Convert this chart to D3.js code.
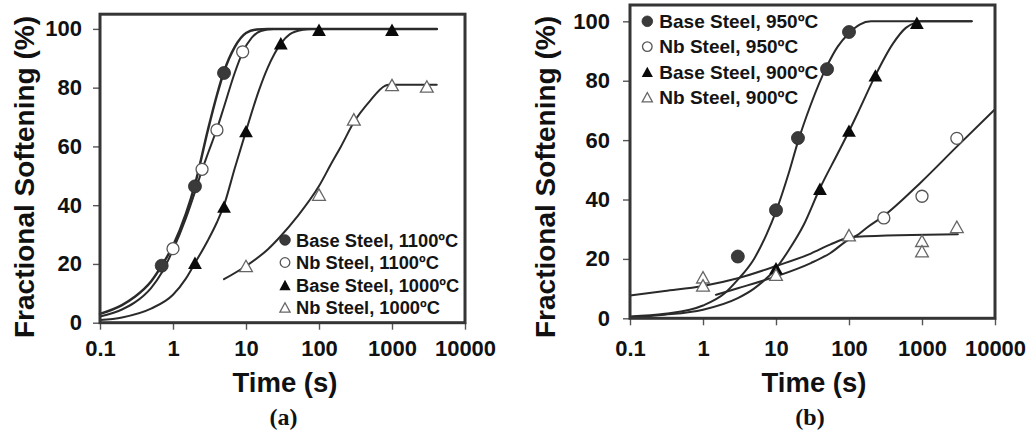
<!DOCTYPE html>
<html><head><meta charset="utf-8">
<script src="https://cdn.jsdelivr.net/npm/d3@7"></script>
<style>body{margin:0;background:#fff;} svg{display:block}</style>
</head><body><svg id="c" width="1032" height="434"></svg>
<script>
// ---------- data ----------
const xTickValues = [0.1, 1, 10, 100, 1000, 10000];
const xTickLabels = ["0.1", "1", "10", "100", "1000", "10000"];
const yTickValues = [0, 20, 40, 60, 80, 100];
const yTickLabels = ["0", "20", "40", "60", "80", "100"];
const panelLabels = ["(a)", "(b)"];
const xTitle = "Time (s)";
const yTitle = "Fractional Softening (%)";
const aLegend = ["Base Steel, 1100ºC", "Nb Steel, 1100ºC", "Base Steel, 1000ºC", "Nb Steel, 1000ºC"];
const bLegend = ["Base Steel, 950ºC", "Nb Steel, 950ºC", "Base Steel, 900ºC", "Nb Steel, 900ºC"];

// panel (a) measured points [time s, softening %]
const aBase1100 = [[0.7, 19.4], [2, 46.4], [5, 85]];
const aNb1100 = [[1, 25.2], [2.5, 52.2], [4, 65.6], [9, 92.2]];
const aBase1000 = [[2, 20.4], [5, 39.5], [10, 65.2], [30, 95.1], [100, 99.7], [1000, 99.7]];
const aNb1000 = [[10, 19.3], [100, 43.6], [300, 69.2], [1000, 80.9], [3000, 80.4]];
// panel (a) fitted curves
const aBase1100Fit = [[0.1, 3.0], [0.2, 6], [0.3, 8.8], [0.5, 14], [0.7, 19.4], [1, 26.2], [1.5, 37], [2, 47], [3, 65.5], [4, 77.5], [5, 85.5], [7, 93.8], [10, 98.6], [14, 99.8], [20, 100], [4100, 100]];
const aNb1100Fit = [[0.1, 2.1], [0.2, 4.5], [0.3, 6.9], [0.5, 11.8], [0.7, 17], [1, 24.8], [1.5, 35.5], [2, 44.5], [2.5, 52], [3, 57.5], [4, 66], [5, 73.5], [7, 85], [9, 92], [12, 97], [16, 99.3], [24, 100], [4100, 100]];
const aBase1000Fit = [[0.1, 0.9], [0.2, 1.8], [0.5, 4.8], [1, 9.5], [1.5, 15], [2, 20.3], [3, 28], [4, 34.2], [5, 40], [7, 52.5], [10, 65.2], [15, 79], [20, 87], [30, 95], [40, 98.2], [60, 99.7], [80, 100], [4100, 100]];
const aNb1000Fit = [[5, 14.8], [10, 19.3], [20, 25], [30, 29.5], [50, 36], [100, 46.5], [150, 54.5], [200, 60], [300, 68.2], [500, 75.5], [800, 80.6], [900, 81], [4100, 81]];

// panel (b) measured points
const bBase950 = [[3, 20.8], [10, 36.4], [20, 60.7], [50, 83.9], [100, 96.4]];
const bNb950 = [[300, 33.8], [1000, 41.1], [3000, 60.6]];
const bBase900 = [[10, 16.9], [40, 43.6], [100, 63.2], [230, 81.8], [850, 99.5]];
const bNb900 = [[1, 13.8], [1, 11.1], [10, 14.7], [100, 28], [1000, 26.1], [1000, 22.6], [3000, 30.8]];
// panel (b) fitted curves
const bBase950Fit = [[0.1, 0.6], [0.3, 1.5], [1, 4.3], [2, 8.5], [3, 13], [5, 20], [7.5, 28.5], [10, 36], [15, 49], [20, 59.5], [30, 72], [50, 85], [70, 91.5], [100, 96], [140, 98.9], [200, 100], [4800, 100]];
const bBase900Fit = [[0.1, 0.4], [0.3, 1.2], [1, 2.9], [3, 6.8], [5, 10], [10, 16.8], [15, 23], [24, 31.5], [40, 43.8], [70, 55.5], [100, 63], [140, 70.5], [230, 81.8], [400, 92.5], [600, 97.8], [800, 99.5], [1000, 100], [4800, 100]];
const bNb950Fit = [[1.5, 7.9], [3, 10.1], [10, 14.1], [30, 18.6], [55, 21.9], [100, 26.6], [130, 28], [175, 30.5], [300, 34.5], [940, 45.5], [3000, 57.8], [10000, 70.4]];
const bNb900Fit = [[0.1, 7.7], [0.3, 9.2], [1, 10.9], [3, 13.5], [10, 17.6], [30, 21.8], [55, 24.8], [100, 27.2], [127, 27.5], [3100, 28.3]];

// ---------- drawing ----------
const svg = d3.select("#c");
const SANS = "'Liberation Sans', Arial, sans-serif";
const SERIF = "'Liberation Serif', 'Times New Roman', serif";
const LINE = "#2a2a2a";

function tri(cx, cy, hw, hh) {
  return `M${cx},${cy - hh}L${cx + hw},${cy + hh}L${cx - hw},${cy + hh}Z`;
}
function drawMarker(g, type, cx, cy, small) {
  const r = small ? 5.3 : 6.5;
  const hw = small ? 5.6 : 6.9, hh = small ? 5.2 : 6.2;
  if (type === "fc") g.append("circle").attr("cx", cx).attr("cy", cy).attr("r", r).attr("fill", "#3a3a3a").attr("stroke", "#2a2a2a").attr("stroke-width", 0.8);
  else if (type === "oc") g.append("circle").attr("cx", cx).attr("cy", cy).attr("r", r - 0.5).attr("fill", "#fff").attr("stroke", "#555").attr("stroke-width", 1.3);
  else if (type === "ft") g.append("path").attr("d", tri(cx, cy, hw, hh)).attr("fill", "#0a0a0a");
  else g.append("path").attr("d", tri(cx, cy, hw - 0.5, hh - 0.5)).attr("fill", "#fff").attr("stroke", "#666").attr("stroke-width", 1.3);
}

function panel(cfg) {
  const x = d3.scaleLog().domain([0.1, 10000]).range([cfg.x0, cfg.x1]);
  const y = d3.scaleLinear().domain([0, cfg.ymax]).range([cfg.y0, cfg.ytop]);
  const g = svg.append("g");

  const xa = g.append("g").attr("transform", `translate(0,${cfg.y0})`)
    .call(d3.axisBottom(x).tickValues(xTickValues).tickFormat((d, i) => xTickLabels[i])
      .tickSize(7).tickSizeOuter(0).tickPadding(cfg.xpad));
  const ya = g.append("g").attr("transform", `translate(${cfg.x0},0)`)
    .call(d3.axisLeft(y).tickValues(yTickValues).tickFormat((d, i) => yTickLabels[i])
      .tickSize(7).tickSizeOuter(0).tickPadding(cfg.ypad));
  [xa, ya].forEach(a => {
    a.select(".domain").remove();
    a.selectAll(".tick line").attr("stroke", "#555").attr("stroke-width", 1.4);
    a.selectAll(".tick text").attr("font-family", SANS).attr("font-weight", "bold")
      .attr("font-size", 22).attr("fill", "#111");
  });

  const line = d3.line().x(d => x(d[0])).y(d => y(d[1])).curve(d3.curveMonotoneX);
  cfg.fits.forEach((f, i) => {
    g.append("path").attr("d", line(f)).attr("fill", "none").attr("stroke", LINE)
      .attr("stroke-width", cfg.widths[i]).attr("stroke-linejoin", "round").attr("stroke-linecap", "round");
  });
  cfg.series.forEach((s, i) => {
    s.forEach(d => drawMarker(g, cfg.types[i], x(d[0]), y(d[1]), false));
  });

  // frame
  g.append("rect").attr("x", cfg.x0).attr("y", cfg.ytop).attr("width", cfg.x1 - cfg.x0)
    .attr("height", cfg.y0 - cfg.ytop).attr("fill", "none").attr("stroke", "#353535").attr("stroke-width", 3);

  // legend
  cfg.legend.forEach((t, i) => {
    const ly = cfg.ly0 + i * cfg.ldy;
    drawMarker(g, cfg.types[i], cfg.lmx, ly, true);
    g.append("text").attr("x", cfg.ltx).attr("y", ly).attr("dy", "0.36em").text(t)
      .attr("font-family", SANS).attr("font-weight", "bold").attr("font-size", cfg.lfs).attr("fill", "#141414");
  });

  // titles
  g.append("text").attr("x", cfg.xtx).attr("y", 392).attr("text-anchor", "middle").text(xTitle)
    .attr("font-family", SANS).attr("font-weight", "bold").attr("font-size", 27.5).attr("fill", "#111");
  g.append("text").attr("transform", `translate(${cfg.ytx},177) rotate(-90)`).attr("text-anchor", "middle").text(yTitle)
    .attr("font-family", SANS).attr("font-weight", "bold").attr("font-size", 28).attr("fill", "#111");
  g.append("text").attr("x", cfg.plx).attr("y", 425).attr("text-anchor", "middle").text(cfg.pl)
    .attr("font-family", SERIF).attr("font-weight", "bold").attr("font-size", 24).attr("fill", "#111");
}

panel({
  x0: 100, x1: 465, y0: 322.7, ytop: 14.2, ymax: 105, xpad: 11, ypad: 11,
  fits: [aBase1100Fit, aNb1100Fit, aBase1000Fit, aNb1000Fit], widths: [2.5, 2, 2, 2],
  series: [aBase1100, aNb1100, aBase1000, aNb1000], types: ["fc", "oc", "ft", "ot"],
  legend: aLegend, lmx: 285, ltx: 296, ly0: 240, ldy: 22.5, lfs: 18.3,
  xtx: 285, ytx: 34, plx: 283.5, pl: panelLabels[0]
});
panel({
  x0: 630, x1: 995, y0: 318.3, ytop: 5, ymax: 105.5, xpad: 15, ypad: 13,
  fits: [bBase950Fit, bNb950Fit, bBase900Fit, bNb900Fit], widths: [2, 2, 2, 2],
  series: [bBase950, bNb950, bBase900, bNb900], types: ["fc", "oc", "ft", "ot"],
  legend: bLegend, lmx: 647.3, ltx: 659.3, ly0: 21.3, ldy: 25.3, lfs: 19,
  xtx: 814, ytx: 555, plx: 810, pl: panelLabels[1]
});
</script></body></html>
